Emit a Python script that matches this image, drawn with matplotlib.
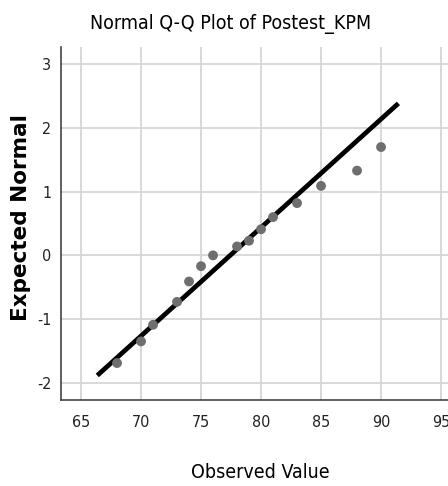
import matplotlib.pyplot as plt

plt.rcParams['axes.unicode_minus'] = False

observed = [68, 70, 71, 73, 74, 75, 76, 78, 79, 80, 81, 83, 85, 88, 90]
expected = [-1.69, -1.35, -1.09, -0.73, -0.41, -0.17, 0.0, 0.14, 0.23, 0.41,
            0.60, 0.82, 1.09, 1.33, 1.70]

# reference line end points
line_x = [66.5, 91.3]
line_y = [-1.86, 2.36]

xticks = [65, 70, 75, 80, 85, 90, 95]
yticks = [-2, -1, 0, 1, 2, 3]

W, H = 448, 486
fig = plt.figure(figsize=(W / 100, H / 100), dpi=100)
ax = fig.add_axes([61 / W, 86 / H, 387 / W, 353 / H])

ax.set_xlim(63.33, 95.58)
ax.set_ylim(-2.27, 3.27)
ax.set_xticks(xticks)
ax.set_yticks(yticks)
ax.grid(True, color='#d6d6d6', linewidth=1.3)
ax.set_axisbelow(True)

ax.plot(line_x, line_y, color='black', linewidth=3.4, zorder=2)
ax.scatter(observed, expected, s=50, color='#6e6e6e', edgecolors='none', zorder=3)

for s in ['top', 'right']:
    ax.spines[s].set_visible(False)
for s in ['left', 'bottom']:
    ax.spines[s].set_color('#444444')
    ax.spines[s].set_linewidth(1.2)

ax.tick_params(axis='x', length=0, pad=11)
ax.tick_params(axis='y', length=0, pad=7)
for lab in ax.get_xticklabels() + ax.get_yticklabels():
    lab.set_fontfamily('DejaVu Sans')
    lab.set_fontstretch('condensed')
    lab.set_fontsize(11.5)
    lab.set_color('#222222')

fig.text(231 / W, 1 - 24 / H, 'Normal Q-Q Plot of Postest_KPM', ha='center', va='center',
         fontfamily='DejaVu Sans', fontstretch='condensed', fontsize=14)
fig.text(260 / W, 1 - 472 / H, 'Observed Value', ha='center', va='center',
         fontfamily='DejaVu Sans', fontstretch='condensed', fontsize=14)
fig.text(21 / W, 1 - 218 / H, 'Expected Normal', ha='center', va='center', rotation=90,
         fontfamily='DejaVu Sans', fontweight='bold', fontsize=15.5)

fig.savefig('out.png', dpi=100)
